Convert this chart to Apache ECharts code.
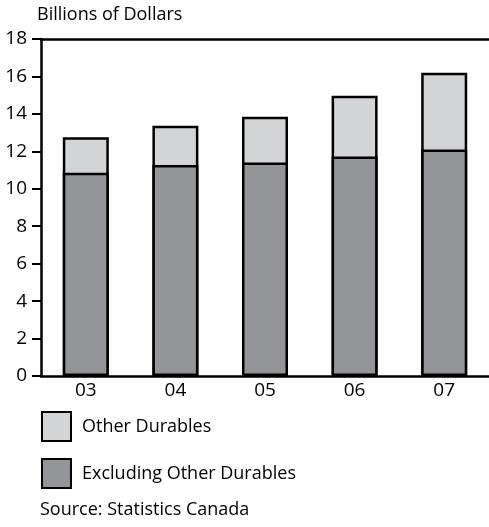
<!DOCTYPE html>
<html>
<head>
<meta charset="utf-8">
<script src="https://cdn.jsdelivr.net/npm/echarts@6/dist/echarts.min.js"></script>
<style>
  html, body { margin: 0; padding: 0; background: #fff; }
  #chart { width: 489px; height: 527px; }
</style>
</head>
<body>
<div id="chart"></div>
<script>
// Annual values, billions of dollars
const years = ['03', '04', '05', '06', '07'];
const excludingOther = [10.85, 11.27, 11.4, 11.72, 12.1];
const otherDurables = [1.9, 2.1, 2.45, 3.25, 4.1];
const yTicks = [0, 2, 4, 6, 8, 10, 12, 14, 16, 18];

// The light segment is drawn as the full column behind the dark one,
// so the two share a single dividing line.
const totals = years.map((_, i) => +(excludingOther[i] + otherDurables[i]).toFixed(2));

const FONT = '"Open Sans", "Noto Sans", sans-serif';
const chart = echarts.init(document.getElementById('chart'), null, { renderer: 'canvas' });

chart.setOption({
  animation: false,
  backgroundColor: '#ffffff',
  textStyle: { fontFamily: FONT, color: '#000' },
  title: [
    {
      text: 'Billions of Dollars',
      left: 37, top: 6, padding: 0,
      textStyle: { fontFamily: FONT, fontSize: 18, fontWeight: 'normal', color: '#000' }
    },
    {
      text: 'Source: Statistics Canada',
      left: 40, top: 501, padding: 0,
      textStyle: { fontFamily: FONT, fontSize: 18, fontWeight: 'normal', color: '#000' }
    }
  ],
  legend: {
    orient: 'vertical',
    left: 41, top: 411, padding: 0,
    itemWidth: 29, itemHeight: 29,
    itemGap: 16,
    icon: 'rect',
    data: ['Other Durables', 'Excluding Other Durables'],
    textStyle: { fontFamily: FONT, fontSize: 18, color: '#000', padding: [0, 0, 0, 6] }
  },
  grid: { left: 41, top: 39, right: -2, bottom: 151, containLabel: false },
  xAxis: [
    {
      type: 'category',
      data: years,
      axisLine: { show: true, lineStyle: { color: '#000', width: 2.5 } },
      axisTick: { show: false },
      axisLabel: { fontFamily: FONT, fontSize: 19, color: '#000', margin: 5 }
    },
    {
      type: 'category',
      position: 'top',
      data: years,
      axisLine: { show: true, lineStyle: { color: '#000', width: 2.5 } },
      axisTick: { show: false },
      axisLabel: { show: false }
    }
  ],
  yAxis: {
    type: 'value',
    min: yTicks[0],
    max: yTicks[yTicks.length - 1],
    interval: 2,
    axisLine: { show: true, lineStyle: { color: '#000', width: 2.5 } },
    axisTick: { show: true, length: 9, lineStyle: { color: '#000', width: 2 } },
    axisLabel: { fontFamily: FONT, fontSize: 19, color: '#000', margin: 14 },
    splitLine: { show: false }
  },
  series: [
    {
      name: 'Other Durables',
      type: 'bar',
      data: totals,
      barWidth: 46,
      barGap: '-100%',
      z: 2,
      itemStyle: { color: '#d3d4d6', borderColor: '#000', borderWidth: 2.5 }
    },
    {
      name: 'Excluding Other Durables',
      type: 'bar',
      data: excludingOther,
      barWidth: 46,
      barGap: '-100%',
      z: 3,
      itemStyle: { color: '#939598', borderColor: '#000', borderWidth: 2.5 }
    }
  ]
});
</script>
</body>
</html>
